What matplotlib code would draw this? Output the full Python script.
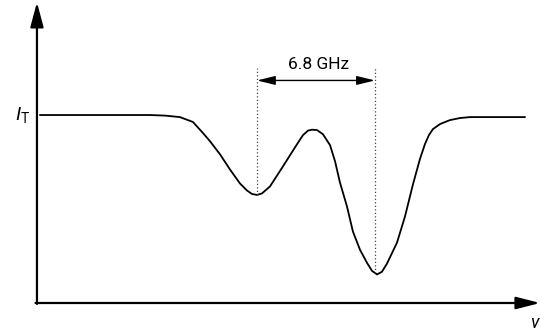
import matplotlib.pyplot as plt
import numpy as np

plt.rcParams['font.family'] = ['Roboto', 'DejaVu Sans']
plt.rcParams['mathtext.fontset'] = 'custom'
plt.rcParams['mathtext.rm'] = 'Roboto'
plt.rcParams['mathtext.it'] = 'Roboto:italic'

# transmitted intensity vs frequency (GHz), relative to I_T
freq = [0.17, 3.63, 6.51, 7.38, 8.24, 8.99, 9.57, 9.97, 10.55, 11.12,
        11.70, 12.10, 12.39, 12.68, 12.97, 13.43, 14.18, 14.99, 15.33,
        15.62, 15.85, 16.14, 16.48, 16.89, 17.18, 17.46, 17.87, 18.21,
        18.62, 19.02, 19.31, 19.60, 19.88, 20.17, 20.75, 21.21, 21.67,
        22.07, 22.36, 22.59, 22.82, 23.23, 23.80, 24.38, 24.96, 28.13]
trans = [1.000, 1.000, 1.000, 0.997, 0.989, 0.963, 0.904, 0.861, 0.791,
         0.711, 0.636, 0.599, 0.580, 0.575, 0.583, 0.620, 0.727, 0.845,
         0.893, 0.917, 0.922, 0.920, 0.898, 0.840, 0.754, 0.642, 0.513,
         0.380, 0.283, 0.214, 0.171, 0.152, 0.166, 0.209, 0.321, 0.460,
         0.631, 0.765, 0.845, 0.893, 0.925, 0.952, 0.973, 0.984, 0.989,
         0.989]
dips = [12.68, 19.48]       # marked minima (GHz)
dip_depth = [0.575, 0.160]
split_label = '6.8 GHz'

fig = plt.figure(figsize=(5.41, 3.31), dpi=100)
ax = fig.add_axes([0, 0, 1, 1])
ax.set_xlim(-2.13, 29.05)
ax.set_ylim(-0.149, 1.612)
ax.axis('off')

# axes with arrow heads
ax.annotate('', xy=(0, 1.60), xytext=(0, -0.005),
            arrowprops=dict(arrowstyle='-|>,head_length=1.5,head_width=0.4',
                            mutation_scale=10, color='black', lw=1.6,
                            shrinkA=0, shrinkB=0))
ax.annotate('', xy=(29.0, 0), xytext=(-0.08, 0),
            arrowprops=dict(arrowstyle='-|>,head_length=1.45,head_width=0.37',
                            mutation_scale=10, color='black', lw=1.6,
                            shrinkA=0, shrinkB=0))

ax.plot(freq, trans, color='black', lw=1.3, solid_capstyle='round')

# dotted markers and splitting arrow
top = 1.25
for f, d in zip(dips, dip_depth):
    ax.plot([f, f], [d, top], color='#444444', lw=0.9,
            linestyle=(0, (1, 1.8)))
ax.annotate('', xy=(dips[0], 1.184), xytext=(dips[1], 1.184),
            arrowprops=dict(arrowstyle='<|-|>,head_length=1.1,head_width=0.27',
                            mutation_scale=10, color='black', lw=1.0,
                            shrinkA=0, shrinkB=0))
ax.text(np.mean(dips) + 0.15, 1.243, split_label, ha='center',
        va='baseline', fontsize=12.5)

ax.text(-0.4, 1.0, r'$I_{\mathrm{T}}$', ha='right', va='center', fontsize=14)
ax.text(28.4, -0.06, r'$\nu$', ha='left', va='top', fontsize=13)

fig.savefig('out.png', dpi=100)
